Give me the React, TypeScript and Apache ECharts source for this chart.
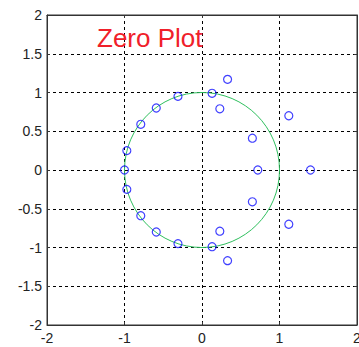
import React, { useEffect, useRef } from "react";
import * as echarts from "echarts";

// Zero locations (real part, imaginary part)
const zeroRe = [
  -1.0, -0.97, -0.79, -0.59, -0.31, 0.13, 0.23, 0.33, 0.65, 1.12, 0.72, 1.4,
  -0.97, -0.79, -0.59, -0.31, 0.13, 0.23, 0.33, 0.65, 1.12,
];
const zeroIm = [
  0.0, 0.25, 0.59, 0.8, 0.95, 0.99, 0.79, 1.17, 0.41, 0.7, 0.0, 0.0,
  -0.25, -0.59, -0.8, -0.95, -0.99, -0.79, -1.17, -0.41, -0.7,
];
// Reference unit circle: centre x, centre y, radius
const unitCircle = [[0, 0, 1]];
const axisMin = -2;
const axisMax = 2;
const xStep = 1;
const yStep = 0.5;
const titleText = "Zero Plot";

const FONT = "'Liberation Sans', Arial, sans-serif";

export default function App() {
  const ref = useRef<HTMLDivElement>(null);

  useEffect(() => {
    document.body.style.margin = "0";
    const chart = echarts.init(ref.current!, null, { renderer: "svg" });
    const gridLine = { show: true, lineStyle: { color: "#000", type: [3, 3] as any, width: 1 } };
    const labelStyle = { color: "#222", fontSize: 14, fontFamily: FONT };
    chart.setOption({
      animation: false,
      backgroundColor: "#fff",
      grid: {
        left: 47,
        top: 15,
        right: 2,
        bottom: 22,
        outerBoundsMode: "none",
        containLabel: false,
        show: true,
        borderColor: "#333",
        borderWidth: 1,
      },
      xAxis: [
        {
          type: "value",
          min: axisMin,
          max: axisMax,
          interval: xStep,
          axisLine: { show: true, onZero: false, lineStyle: { color: "#333" } },
          axisTick: { show: true, inside: true, length: 3, lineStyle: { color: "#333" } },
          axisLabel: { ...labelStyle, margin: 6 },
          splitLine: gridLine,
        },
        {
          type: "value",
          position: "top",
          min: axisMin,
          max: axisMax,
          interval: xStep,
          axisLine: { show: true, onZero: false, lineStyle: { color: "#333" } },
          axisTick: { show: true, inside: true, length: 3, lineStyle: { color: "#333" } },
          axisLabel: { show: false },
          splitLine: { show: false },
        },
      ],
      yAxis: [
        {
          type: "value",
          min: axisMin,
          max: axisMax,
          interval: yStep,
          axisLine: { show: true, onZero: false, lineStyle: { color: "#333" } },
          axisTick: { show: true, inside: true, length: 3, lineStyle: { color: "#333" } },
          axisLabel: { ...labelStyle, margin: 5 },
          splitLine: gridLine,
        },
        {
          type: "value",
          position: "right",
          min: axisMin,
          max: axisMax,
          interval: yStep,
          axisLine: { show: true, onZero: false, lineStyle: { color: "#333" } },
          axisTick: { show: true, inside: true, length: 3, lineStyle: { color: "#333" } },
          axisLabel: { show: false },
          splitLine: { show: false },
        },
      ],
      graphic: [
        {
          type: "text",
          x: 97,
          y: 25,
          z: 10,
          style: {
            text: titleText,
            fill: "#f0202a",
            font: `26px ${FONT}`,
            textVerticalAlign: "top",
          },
        },
      ],
      series: [
        {
          type: "custom",
          coordinateSystem: "cartesian2d",
          data: unitCircle,
          silent: true,
          renderItem: (_params: any, api: any) => {
            const c = api.coord([api.value(0), api.value(1)]);
            const r = api.size([api.value(2), api.value(2)]);
            return {
              type: "ellipse",
              shape: { cx: c[0], cy: c[1], rx: r[0], ry: r[1] },
              style: { fill: "none", stroke: "#2fbf5e", lineWidth: 1 },
            };
          },
          z: 2,
        },
        {
          type: "scatter",
          data: zeroRe.map((x, i) => [x, zeroIm[i]]),
          symbol: "circle",
          symbolSize: 8,
          itemStyle: { color: "rgba(0,0,0,0)", borderColor: "#1010ff", borderWidth: 1.2 },
          z: 3,
        },
      ],
    });
    return () => chart.dispose();
  }, []);

  return <div ref={ref} style={{ width: 359, height: 347 }} />;
}
